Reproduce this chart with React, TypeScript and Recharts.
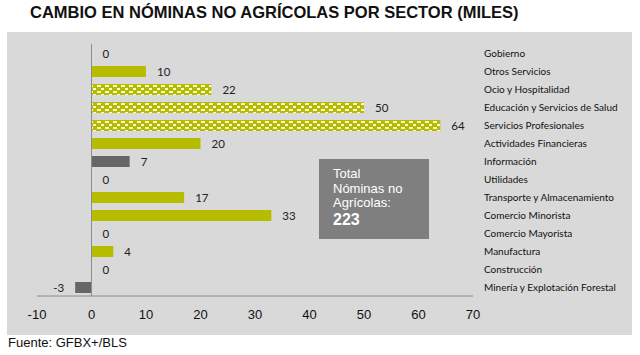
import React from 'react';
import {
  BarChart, Bar, XAxis, YAxis, Cell, LabelList, ReferenceLine,
} from 'recharts';

const sectors = [
  'Gobierno',
  'Otros Servicios',
  'Ocio y Hospitalidad',
  'Educación y Servicios de Salud',
  'Servicios Profesionales',
  'Actividades Financieras',
  'Información',
  'Utilidades',
  'Transporte y Almacenamiento',
  'Comercio Minorista',
  'Comercio Mayorista',
  'Manufactura',
  'Construcción',
  'Minería y Explotación Forestal',
];

const changes = [0, 10, 22, 50, 64, 20, 7, 0, 17, 33, 0, 4, 0, -3];

const xTicks = [-10, 0, 10, 20, 30, 40, 50, 60, 70];

const totalNominas = 223;

const patternedSectors = ['Ocio y Hospitalidad', 'Educación y Servicios de Salud', 'Servicios Profesionales'];
const greySectors = ['Información', 'Minería y Explotación Forestal'];

const data = sectors.map((sector, i) => ({ sector, value: changes[i] }));

const OLIVE = '#b6bd00';
const GREY_BAR = '#666666';

const ValueLabel = ({ x, y, width, height, value }: any) => {
  const left = Math.min(x, x + width);
  const right = Math.max(x, x + width);
  const neg = value < 0;
  return (
    <text
      x={neg ? left - 11 : right + 11}
      y={y + height / 2}
      dy="0.36em"
      textAnchor={neg ? 'end' : 'start'}
      fill="#222"
      fontSize={11.5}
      fontFamily="Lato, 'Open Sans', sans-serif"
    >
      {value}
    </text>
  );
};

const SectorTick = ({ x, y, payload }: any) => (
  <text
    x={x}
    y={y}
    dy="0.35em"
    textAnchor="start"
    fill="#111"
    fontSize={10}
    fontFamily="Lato, 'Open Sans', sans-serif"
  >
    {payload.value}
  </text>
);

export default function App() {
  return (
    <div style={{ position: 'absolute', left: 0, top: 0, width: 640, height: 355, background: '#fff', fontFamily: "'Liberation Sans', Arial, sans-serif" }}>
      <div style={{ position: 'absolute', left: 30, top: 3, fontSize: 16.5, fontWeight: 'bold', color: '#111', whiteSpace: 'nowrap' }}>
        CAMBIO EN NÓMINAS NO AGRÍCOLAS POR SECTOR (MILES)
      </div>
      <div style={{ position: 'absolute', left: 7, top: 32, width: 625, height: 303, background: '#d9d9d9' }} />
      <div style={{ position: 'absolute', left: 0, top: 0 }}>
        <BarChart
          width={640}
          height={355}
          data={data}
          layout="vertical"
          margin={{ top: 44, right: 7, left: 37, bottom: 29 }}
          barSize={11}
        >
          <defs>
            <pattern id="dashPattern" patternUnits="userSpaceOnUse" width={8} height={6}>
              <rect width={8} height={6} fill={OLIVE} />
              <rect x={1} y={1} width={4} height={2} fill="#fbf8d8" />
              <rect x={5} y={4} width={3} height={2} fill="#fbf8d8" />
            </pattern>
          </defs>
          <XAxis
            type="number"
            domain={[-10, 70]}
            ticks={xTicks}
            interval={0}
            axisLine={{ stroke: '#8c8c8c' }}
            tickLine={false}
            tickMargin={8}
            height={30}
            tick={{ fill: '#111', fontSize: 13, fontFamily: "'Liberation Sans', Arial, sans-serif" }}
          />
          <YAxis
            type="category"
            dataKey="sector"
            orientation="right"
            width={160}
            interval={0}
            axisLine={false}
            tickLine={false}
            tickMargin={5}
            tick={<SectorTick />}
          />
          <ReferenceLine x={0} stroke="#8c8c8c" strokeWidth={1} />
          <Bar
            dataKey="value"
            isAnimationActive={false}
            minPointSize={(v: number) => (v === 0 ? 0.01 : 0)}
          >
            {data.map((d) => (
              <Cell
                key={d.sector}
                fill={
                  patternedSectors.includes(d.sector)
                    ? 'url(#dashPattern)'
                    : greySectors.includes(d.sector)
                    ? GREY_BAR
                    : OLIVE
                }
              />
            ))}
            <LabelList dataKey="value" content={<ValueLabel />} />
          </Bar>
        </BarChart>
      </div>
      <div style={{ position: 'absolute', left: 319, top: 159, width: 110, height: 80, background: '#7f7f7f', color: '#fff', fontSize: 13, lineHeight: '14.5px', boxSizing: 'border-box', padding: '8px 0 0 14px' }}>
        <div>Total</div>
        <div>Nóminas no</div>
        <div>Agrícolas:</div>
        <div style={{ fontWeight: 'bold', fontSize: 16, lineHeight: '18px' }}>{totalNominas}</div>
      </div>
      <div style={{ position: 'absolute', left: 8, top: 335, fontSize: 13, color: '#111' }}>
        Fuente: GFBX+/BLS
      </div>
    </div>
  );
}
